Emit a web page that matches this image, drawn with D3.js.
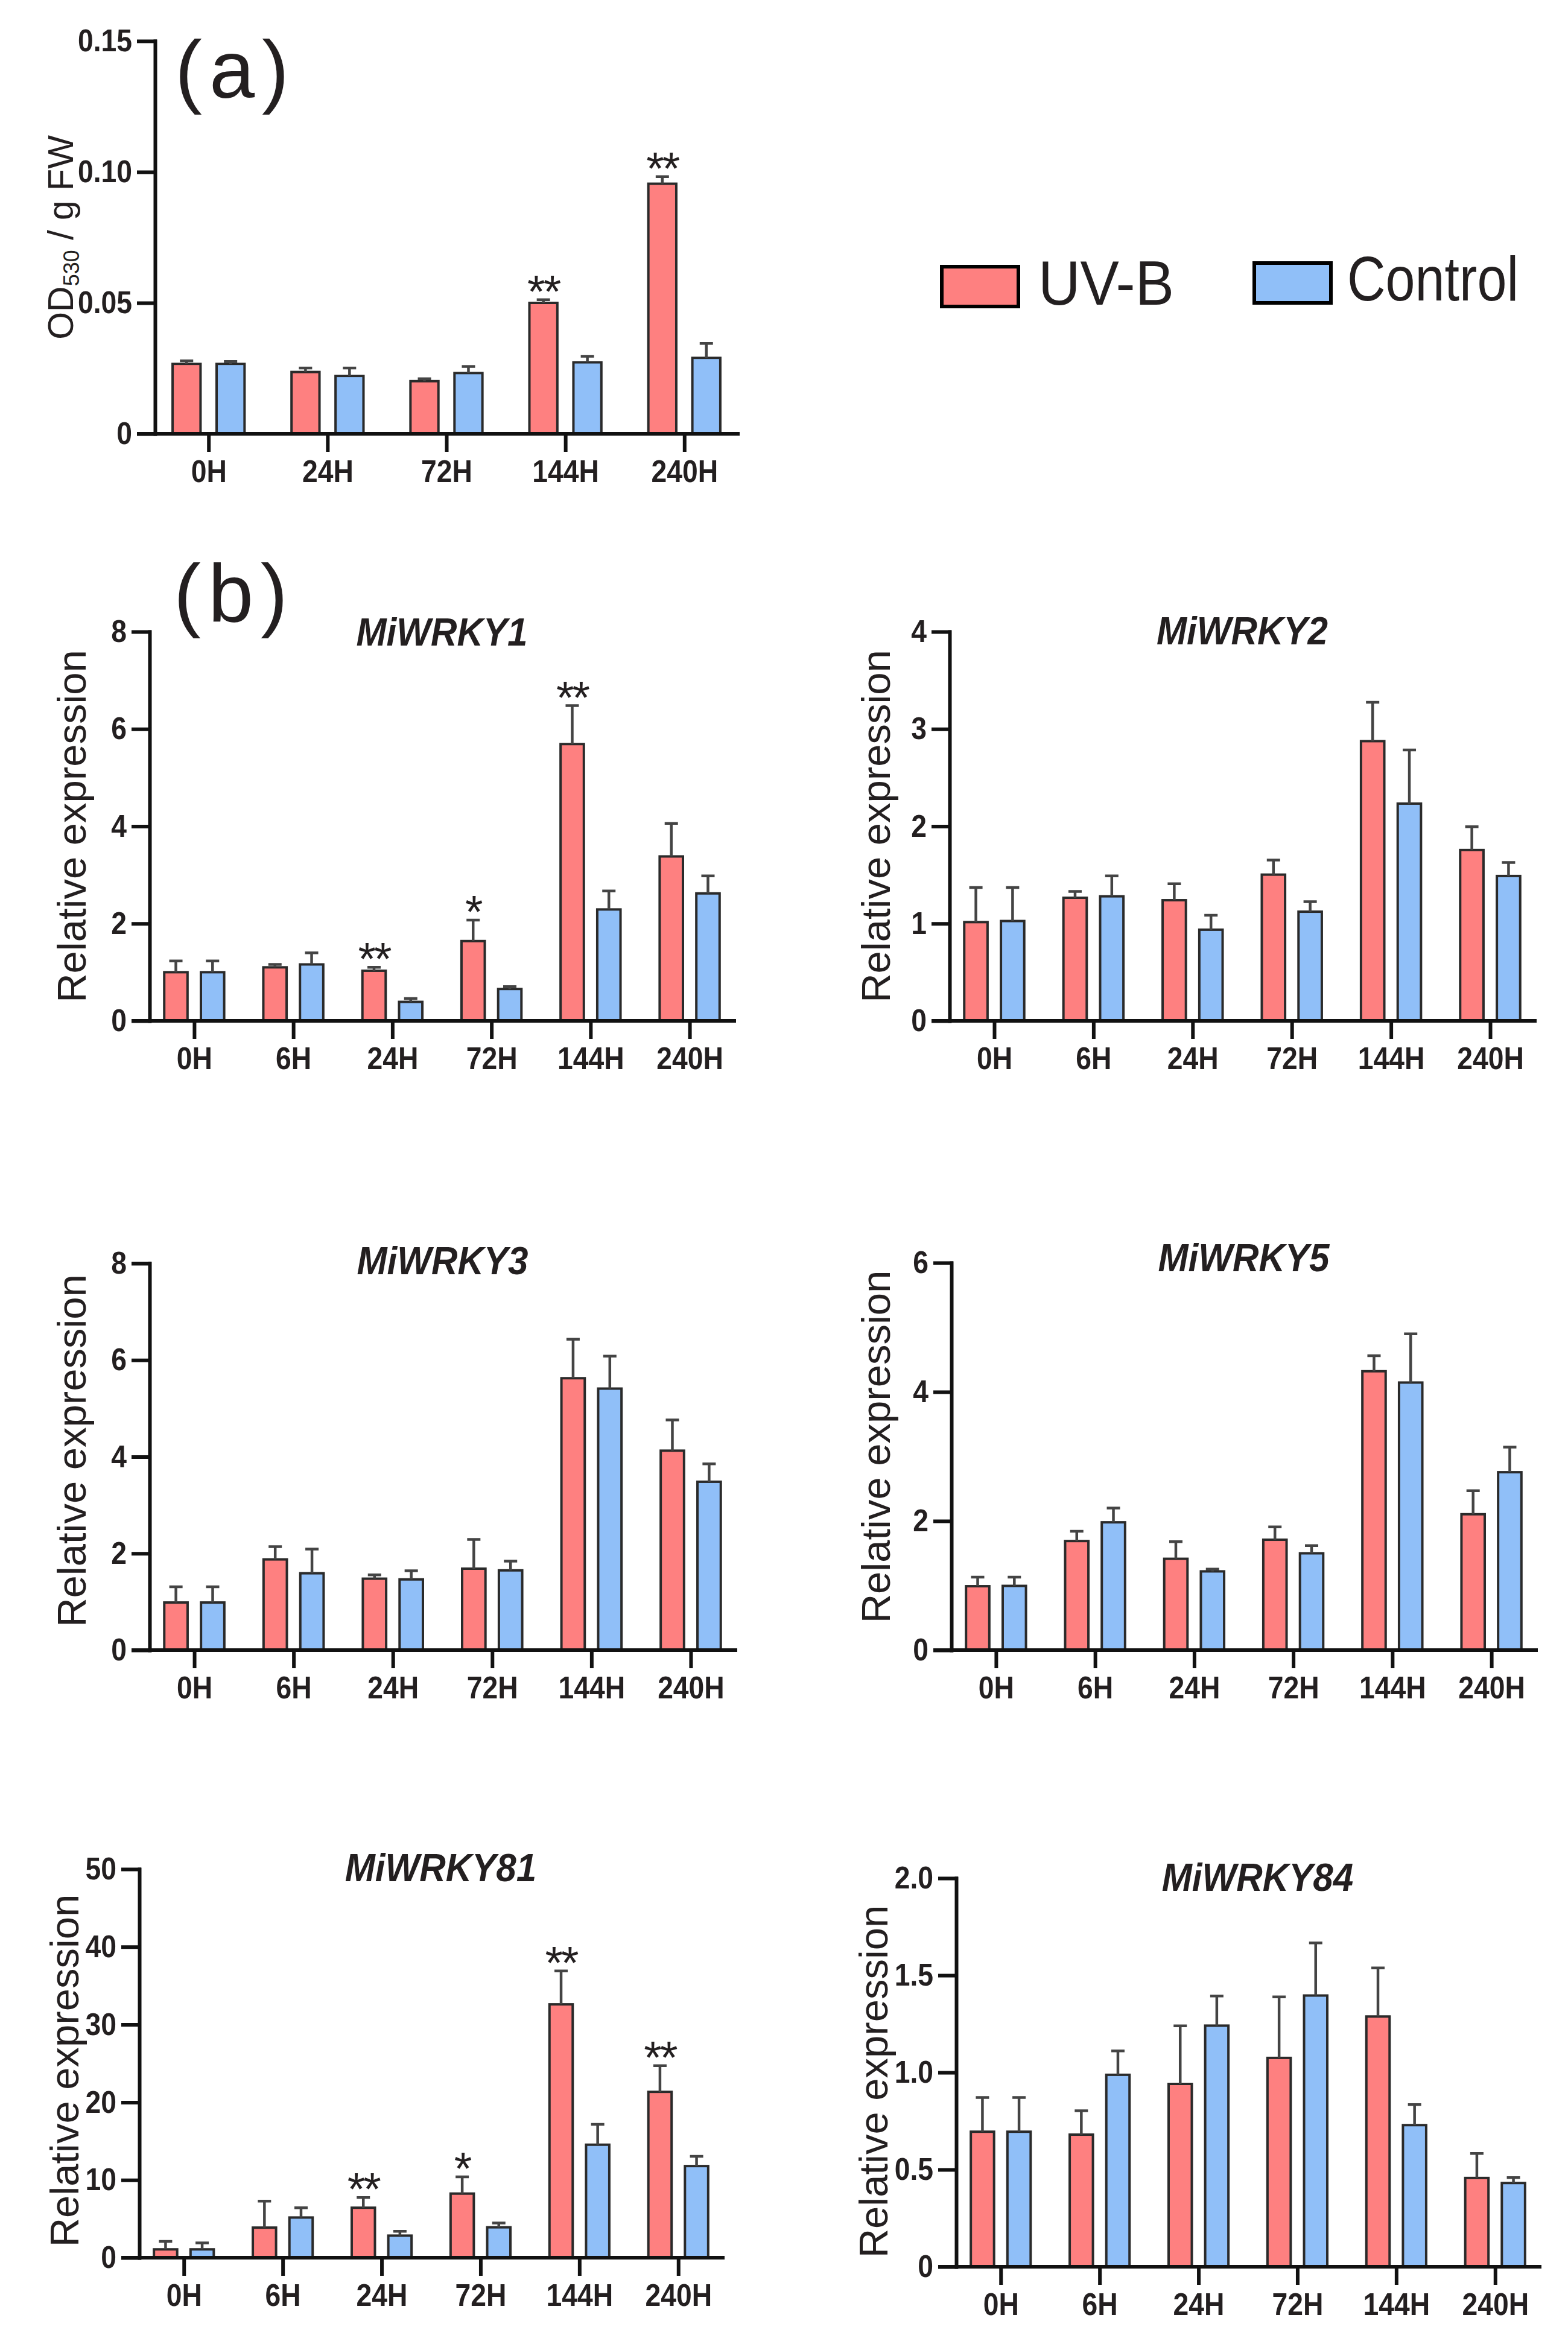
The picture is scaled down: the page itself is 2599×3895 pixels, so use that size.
<!DOCTYPE html>
<html>
<head>
<meta charset="utf-8">
<script src="https://cdn.jsdelivr.net/npm/d3@7"></script>
<style>
  body { margin: 0; background: #fff; }
  text { font-family: "Liberation Sans", Arial, sans-serif; fill: #231f20; }
</style>
</head>
<body>
<svg id="fig" width="2599" height="3895"></svg>
<script>
// ---- data ----
var timesA = ["0H", "24H", "72H", "144H", "240H"]
var timesB = ["0H", "6H", "24H", "72H", "144H", "240H"]

// (a) anthocyanin, OD530 / g FW
var odUVB = [0.0267, 0.0236, 0.0201, 0.0500, 0.0955]
var odUVBErr = [0.0012, 0.0015, 0.0009, 0.0012, 0.0027]
var odCtrl = [0.0267, 0.0221, 0.0232, 0.0273, 0.0290]
var odCtrlErr = [0.0009, 0.0030, 0.0025, 0.0023, 0.0055]
var odSig = ["", "", "", "**", "**"]

// (b) relative expression
var wrky1UVB = [1.0, 1.10, 1.03, 1.64, 5.69, 3.38]
var wrky1UVBErr = [0.23, 0.06, 0.07, 0.43, 0.79, 0.68]
var wrky1Ctrl = [1.0, 1.16, 0.39, 0.655, 2.29, 2.62]
var wrky1CtrlErr = [0.23, 0.24, 0.07, 0.05, 0.38, 0.36]
var wrky1Sig = ["", "", "**", "*", "**", ""]

var wrky2UVB = [1.015, 1.265, 1.24, 1.503, 2.875, 1.756]
var wrky2UVBErr = [0.355, 0.065, 0.17, 0.15, 0.40, 0.24]
var wrky2Ctrl = [1.026, 1.28, 0.937, 1.122, 2.233, 1.489]
var wrky2CtrlErr = [0.344, 0.21, 0.149, 0.103, 0.552, 0.139]

var wrky3UVB = [0.985, 1.877, 1.478, 1.685, 5.625, 4.126]
var wrky3UVBErr = [0.325, 0.263, 0.078, 0.605, 0.805, 0.634]
var wrky3Ctrl = [0.985, 1.59, 1.463, 1.65, 5.41, 3.483]
var wrky3CtrlErr = [0.325, 0.5, 0.177, 0.19, 0.67, 0.371]

var wrky5UVB = [0.99, 1.69, 1.415, 1.71, 4.32, 2.105]
var wrky5UVBErr = [0.14, 0.15, 0.265, 0.2, 0.24, 0.365]
var wrky5Ctrl = [0.995, 1.98, 1.22, 1.50, 4.145, 2.756]
var wrky5CtrlErr = [0.135, 0.22, 0.035, 0.12, 0.755, 0.39]

var wrky81UVB = [1.07, 3.87, 6.43, 8.25, 32.6, 21.34]
var wrky81UVBErr = [1.03, 3.4, 1.31, 2.15, 4.3, 3.36]
var wrky81Ctrl = [1.07, 5.17, 2.84, 3.91, 14.54, 11.79]
var wrky81CtrlErr = [0.83, 1.26, 0.56, 0.56, 2.61, 1.26]
var wrky81Sig = ["", "", "**", "*", "**", "**"]

var wrky84UVB = [0.695, 0.68, 0.941, 1.075, 1.288, 0.457]
var wrky84UVBErr = [0.176, 0.123, 0.299, 0.314, 0.25, 0.126]
var wrky84Ctrl = [0.695, 0.988, 1.241, 1.396, 0.729, 0.431]
var wrky84CtrlErr = [0.176, 0.123, 0.153, 0.271, 0.106, 0.028]

var noSig = ["", "", "", "", "", ""]

var ticksA = [0, 0.05, 0.10, 0.15]
var ticks8 = [0, 2, 4, 6, 8]
var ticks4 = [0, 1, 2, 3, 4]
var ticks6 = [0, 2, 4, 6]
var ticks50 = [0, 10, 20, 30, 40, 50]
var ticks2 = [0, 0.5, 1.0, 1.5, 2.0]

var seriesNames = ["UV-B", "Control"]
var colors = ["#fe8080", "#90bff8"]

// ---- panels ----
var svg = d3.select("#fig")
svg.append("rect").attr("width", 2599).attr("height", 3895).attr("fill", "#fff")

var panels = [
  {cats: timesA, uvb: odUVB, uvbErr: odUVBErr, ctrl: odCtrl, ctrlErr: odCtrlErr, sig: odSig,
   ticks: ticksA, fmt: d => d === 0 ? "0" : d3.format(".2f")(d), ylab: "od",
   left: 257, right: 1223, top: 68, bottom: 719, labX: 121, title: null},
  {cats: timesB, uvb: wrky1UVB, uvbErr: wrky1UVBErr, ctrl: wrky1Ctrl, ctrlErr: wrky1CtrlErr, sig: wrky1Sig,
   ticks: ticks8, fmt: d3.format("d"), left: 248, right: 1217, top: 1047, bottom: 1692, labX: 142, labDy: 0,
   title: "MiWRKY1", titleY: 1070},
  {cats: timesB, uvb: wrky2UVB, uvbErr: wrky2UVBErr, ctrl: wrky2Ctrl, ctrlErr: wrky2CtrlErr, sig: noSig,
   ticks: ticks4, fmt: d3.format("d"), left: 1574, right: 2544, top: 1047, bottom: 1692, labX: 1475, labDy: 0,
   title: "MiWRKY2", titleY: 1068},
  {cats: timesB, uvb: wrky3UVB, uvbErr: wrky3UVBErr, ctrl: wrky3Ctrl, ctrlErr: wrky3CtrlErr, sig: noSig,
   ticks: ticks8, fmt: d3.format("d"), left: 248, right: 1219, top: 2094, bottom: 2735, labX: 142, labDy: -10,
   title: "MiWRKY3", titleY: 2112},
  {cats: timesB, uvb: wrky5UVB, uvbErr: wrky5UVBErr, ctrl: wrky5Ctrl, ctrlErr: wrky5CtrlErr, sig: noSig,
   ticks: ticks6, fmt: d3.format("d"), left: 1577, right: 2546, top: 2093, bottom: 2735, labX: 1475, labDy: -16,
   title: "MiWRKY5", titleY: 2107},
  {cats: timesB, uvb: wrky81UVB, uvbErr: wrky81UVBErr, ctrl: wrky81Ctrl, ctrlErr: wrky81CtrlErr, sig: wrky81Sig,
   ticks: ticks50, fmt: d3.format("d"), left: 231, right: 1198, top: 3098, bottom: 3742, labX: 130, labDy: 12,
   title: "MiWRKY81", titleY: 3118, titleDx: 16},
  {cats: timesB, uvb: wrky84UVB, uvbErr: wrky84UVBErr, ctrl: wrky84Ctrl, ctrlErr: wrky84CtrlErr, sig: noSig,
   ticks: ticks2, fmt: d => d === 0 ? "0" : d3.format(".1f")(d), left: 1585, right: 2552, top: 3113, bottom: 3757,
   labX: 1471, labDy: 15, title: "MiWRKY84", titleY: 3134, titleDx: 16}
]

var tickLen = 27
var narrow = 0.89   // the figure's bold labels are a bit narrower than Arial Bold

panels.forEach(drawPanel)

function drawPanel(p) {
  var g = svg.append("g")
  var x = d3.scalePoint().domain(p.cats).range([p.left, p.right]).padding(0.45)
  var y = d3.scaleLinear().domain([0, p.ticks[p.ticks.length - 1]]).range([p.bottom, p.top])
  var step = x.step()
  var bw = step * 0.235
  var off = step * 0.185

  var series = [
    {vals: p.uvb, err: p.uvbErr, color: colors[0], dx: -off},
    {vals: p.ctrl, err: p.ctrlErr, color: colors[1], dx: off}
  ]

  series.forEach(function (s) {
    var sg = g.append("g")
    sg.selectAll("rect").data(p.cats).enter().append("rect")
      .attr("x", c => x(c) + s.dx - bw / 2)
      .attr("y", (c, i) => y(s.vals[i]))
      .attr("width", bw)
      .attr("height", (c, i) => y(0) - y(s.vals[i]))
      .attr("fill", s.color)
      .attr("stroke", "#2a2a2a")
      .attr("stroke-width", 4)

    sg.selectAll(".eb").data(p.cats).enter().append("path").attr("class", "eb")
      .attr("d", (c, i) => {
        var cx = x(c) + s.dx, y0 = y(s.vals[i]), y1 = y(s.vals[i] + s.err[i])
        return `M${cx},${y0}V${y1}M${cx - 11},${y1}H${cx + 11}`
      })
      .attr("fill", "none")
      .attr("stroke", "#444")
      .attr("stroke-width", 4.5)
  })

  // significance marks over the UV-B bars
  g.selectAll(".sig").data(p.cats).enter().append("text").attr("class", "sig")
    .attr("x", c => x(c) - off)
    .attr("y", (c, i) => y(p.uvb[i] + p.uvbErr[i]) + 12)
    .attr("text-anchor", "middle")
    .attr("font-size", 76)
    .attr("letter-spacing", -3)
    .attr("fill", "#333")
    .text((c, i) => p.sig[i])

  // axes
  var yAxis = d3.axisLeft(y).tickValues(p.ticks).tickFormat(p.fmt).tickSize(tickLen).tickSizeOuter(0).tickPadding(11)
  var yg = g.append("g").attr("transform", `translate(${p.left},0)`).call(yAxis)
  var xAxis = d3.axisBottom(x).tickSize(tickLen).tickSizeOuter(0).tickPadding(16)
  var xg = g.append("g").attr("transform", `translate(0,${p.bottom})`).call(xAxis)
  xg.select(".domain").attr("d", `M${p.left - tickLen},0H${p.right}`)

  ;[yg, xg].forEach(function (ax) {
    ax.attr("font-size", 52).attr("font-family", null)
    ax.selectAll("text").attr("font-weight", "bold").attr("fill", "#231f20")
      .attr("transform", `scale(${narrow},1)`)
    ax.selectAll("line, .domain").attr("stroke", "#111").attr("stroke-width", 6).attr("stroke-linecap", "square")
  })
  yg.selectAll("text").attr("x", -(tickLen + 11) / narrow)

  // y-axis title
  var cy = (p.top + p.bottom) / 2 + (p.labDy || 0)
  var lab = g.append("text")
    .attr("transform", `translate(${p.labX},${cy}) rotate(-90)`)
    .attr("text-anchor", "middle")
  if (p.ylab === "od") {
    lab.attr("font-size", 59)
    lab.append("tspan").text("OD")
    lab.append("tspan").attr("font-size", 36).attr("dy", 10).text("530")
    lab.append("tspan").attr("dy", -10).text(" / g FW")
  } else {
    lab.attr("font-size", 67).text("Relative expression")
  }

  if (p.title) {
    g.append("text")
      .attr("transform", `translate(${(p.left + p.right) / 2 + (p.titleDx || 0)},${p.titleY}) scale(0.94,1)`)
      .attr("text-anchor", "middle")
      .attr("font-size", 64)
      .attr("font-weight", "bold")
      .attr("font-style", "italic")
      .text(p.title)
  }
}

// panel letters
svg.append("text").attr("x", 290).attr("y", 162).attr("font-size", 135).attr("letter-spacing", 12).text("(a)")
svg.append("text").attr("x", 288).attr("y", 1030).attr("font-size", 135).attr("letter-spacing", 12).text("(b)")

// legend
var legend = [
  {box: [1561, 442], tx: 1721, ty: 505, w: 225},
  {box: [2079, 436], tx: 2233, ty: 498, w: 284}
]
var lg = svg.append("g")
lg.selectAll("rect").data(seriesNames).enter().append("rect")
  .attr("x", (d, i) => legend[i].box[0])
  .attr("y", (d, i) => legend[i].box[1])
  .attr("width", 127)
  .attr("height", 66)
  .attr("fill", (d, i) => colors[i])
  .attr("stroke", "#000")
  .attr("stroke-width", 6)
lg.selectAll("text").data(seriesNames).enter().append("text")
  .attr("x", (d, i) => legend[i].tx)
  .attr("y", (d, i) => legend[i].ty)
  .attr("font-size", 104)
  .attr("textLength", (d, i) => legend[i].w)
  .attr("lengthAdjust", "spacingAndGlyphs")
  .text(d => d)
</script>
</body>
</html>
